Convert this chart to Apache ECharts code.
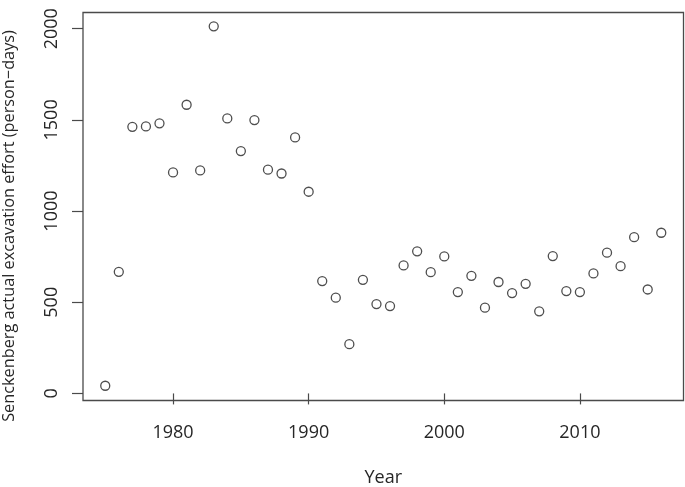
<!DOCTYPE html>
<html>
<head>
<meta charset="utf-8">
<script src="https://cdn.jsdelivr.net/npm/echarts@6/dist/echarts.min.js"></script>
<style>html,body{margin:0;padding:0;background:#fff}#c{width:685px;height:487px}</style>
</head>
<body>
<div id="c"></div>
<script>
const years = [1975,1976,1977,1978,1979,1980,1981,1982,1983,1984,1985,1986,1987,1988,1989,1990,
  1991,1992,1993,1994,1995,1996,1997,1998,1999,2000,2001,2002,2003,2004,2005,2006,2007,2008,2009,
  2010,2011,2012,2013,2014,2015,2016];
const effort = [42,667,1462,1464,1481,1212,1583,1223,2013,1508,1329,1499,1227,1206,1404,1106,
  616,525,270,623,490,479,702,779,665,751,556,645,470,611,550,601,450,753,561,
  556,658,772,698,857,570,881];
const xTicks = [1980,1990,2000,2010];
const yTicks = [0,500,1000,1500,2000];
const xTitle = 'Year';
const yTitle = 'Senckenberg actual excavation effort (person\u2212days)';

const font = 'Open Sans';
const ink = '#262626';
const chart = echarts.init(document.getElementById('c'));
chart.setOption({
  animation: false,
  grid: {left: 83, right: 1.5, top: 12.5, bottom: 86.5, show: true,
    outerBoundsMode: 'none', containLabel: false,
    borderColor: '#4a4a4a', borderWidth: 1.3, backgroundColor: 'transparent'},
  graphic: [{
    type: 'text', x: 9, y: 226, rotation: Math.PI / 2,
    style: {text: yTitle, fontFamily: font, fontSize: 16.3, fill: ink,
      align: 'center', verticalAlign: 'middle'}
  }],
  xAxis: {
    type: 'value', min: 1973.36, max: 2017.64,
    name: xTitle, nameLocation: 'middle', nameGap: 68,
    nameTextStyle: {fontFamily: font, fontSize: 18, color: ink},
    axisLine: {show: false},
    splitLine: {show: false},
    axisTick: {show: true, length: 11, customValues: xTicks, lineStyle: {color: '#4a4a4a', width: 1.2}},
    axisLabel: {customValues: xTicks, margin: 23, fontFamily: font, fontSize: 18, color: ink,
      formatter: v => String(v)}
  },
  yAxis: {
    type: 'value', min: -38.8, max: 2088.8,
    axisLine: {show: false},
    splitLine: {show: false},
    axisTick: {show: true, length: 11, customValues: yTicks, lineStyle: {color: '#4a4a4a', width: 1.2}},
    axisLabel: {customValues: yTicks, rotate: 90, margin: 22, fontFamily: font, fontSize: 18, color: ink,
      formatter: v => String(v)}
  },
  series: [{
    type: 'scatter',
    data: years.map((y, i) => [y, effort[i]]),
    symbol: 'circle', symbolSize: 9,
    itemStyle: {color: 'transparent', borderColor: '#222', borderWidth: 1.3}
  }]
});
</script>
</body>
</html>
